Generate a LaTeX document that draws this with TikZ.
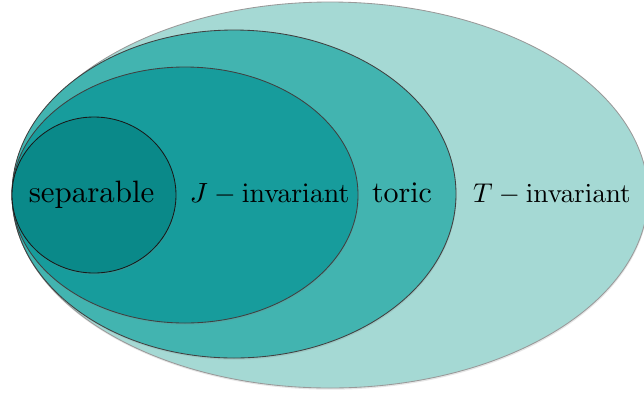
\documentclass[tikz,border=0pt]{standalone}
\usepackage{amsmath}
\usepackage{amssymb}
\usepackage{xcolor}
\usepackage{tikz}
\usetikzlibrary{shapes.geometric,shadows}

\definecolor{tinv}{RGB}{165,217,212}
\definecolor{toric}{RGB}{66,180,176}
\definecolor{jinv}{RGB}{23,156,156}
\definecolor{sepa}{RGB}{10,137,137}

\begin{document}
\begin{tikzpicture}
                        [thick,
                        set/.style = {ellipse,
                                    inner sep = 0pt,
                                    line width = 0.6pt,
                                    draw = black!75,
                                    drop shadow = {opacity = 0.2,
                                                   shadow xshift = 0.4pt,
                                                   shadow yshift = -1.2pt}},
                        lab/.style = {anchor = base,
                                    font = \fontsize{10}{12}\selectfont}]
                        \useasboundingbox (0,0) rectangle (16.1,-9.975);
                        % Conjunto T-invariante
                        \node[set,draw=black!40,fill=tinv,minimum width=15.9cm,minimum height=9.65cm] (T) at (8.25,-4.875) {};
                        % Conjunto torico
                        \node[set,fill=toric,minimum width=11.1cm,minimum height=8.2cm] (Tor) at (5.85,-4.85) {};
                        % Conjunto J-invariante
                        \node[set,fill=jinv,minimum width=8.65cm,minimum height=6.4cm] (J) at (4.625,-4.875) {};
                        % Conjunto separable
                        \node[set,draw=black!90,fill=sepa,minimum width=4.1cm,minimum height=3.9cm] (S) at (2.35,-4.875) {};
                        % Etiquetas
                        \node[lab,scale=2.2] (Slab) at (2.29,-5.05) {separable};
                        \node[lab,scale=1.98] (Jlab) at (6.74,-5.05) {$J-\mathrm{invariant}$};
                        \node[lab,scale=2.13] (Torlab) at (10.05,-5.05) {toric};
                        \node[lab,scale=1.93] (Tlab) at (13.8,-5.05) {$T-\mathrm{invariant}$};
                    \end{tikzpicture}
\end{document}
